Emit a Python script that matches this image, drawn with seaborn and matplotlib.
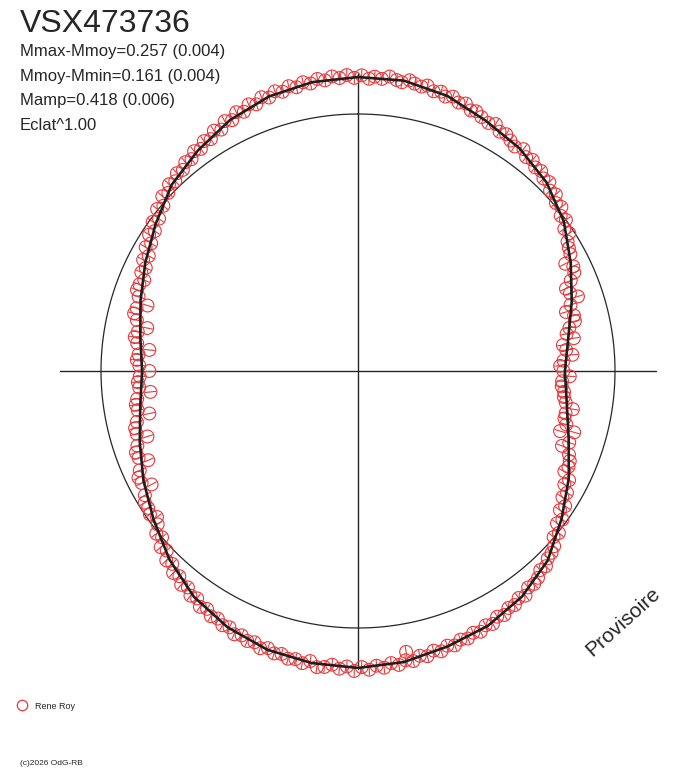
import numpy as np
import pandas as pd
import seaborn as sns
import matplotlib.pyplot as plt
from matplotlib.lines import Line2D

# star and statistics shown in the header
star = "VSX473736"
stats_lines = ["Mmax-Mmoy=0.257 (0.004)", "Mmoy-Mmin=0.161 (0.004)",
               "Mamp=0.418 (0.006)", "Eclat^1.00"]
observer = "Rene Roy"

# fitted light curve: phase vs magnitude relative to Mmoy (positive = fainter)
fit_phase = [0.000, 0.025, 0.050, 0.075, 0.100, 0.125, 0.150, 0.175, 0.200, 0.225,
             0.250, 0.275, 0.300, 0.325, 0.350, 0.375, 0.400, 0.425, 0.450, 0.475,
             0.500, 0.525, 0.550, 0.575, 0.600, 0.625, 0.650, 0.675, 0.700, 0.725,
             0.750, 0.775, 0.800, 0.825, 0.850, 0.875, 0.900, 0.925, 0.950, 0.975, 1.000]
fit_dmag = [-0.172, -0.172, -0.150, -0.112, -0.084, -0.045, 0.012, 0.085, 0.150, 0.205,
            0.233, 0.212, 0.165, 0.095, 0.025, -0.052, -0.102, -0.135, -0.152, -0.175,
            -0.186, -0.180, -0.168, -0.142, -0.103, -0.045, 0.020, 0.075, 0.128, 0.170,
            0.191, 0.170, 0.132, 0.085, 0.032, -0.030, -0.072, -0.115, -0.147, -0.165, -0.172]

# observations (phase, relative magnitude)
obs_phase = [
    0.002, 0.006, 0.009, 0.013, 0.017, 0.021, 0.024, 0.028, 0.031, 0.035,
    0.038, 0.042, 0.046, 0.049, 0.053, 0.057, 0.061, 0.065, 0.068, 0.072,
    0.077, 0.081, 0.085, 0.089, 0.093, 0.097, 0.102, 0.106, 0.110, 0.114,
    0.118, 0.122, 0.126, 0.130, 0.134, 0.138, 0.142, 0.146, 0.150, 0.154,
    0.158, 0.162, 0.166, 0.170, 0.174, 0.178, 0.182, 0.186, 0.190, 0.194,
    0.198, 0.202, 0.206, 0.210, 0.214, 0.218, 0.222, 0.226, 0.230, 0.234,
    0.238, 0.242, 0.246, 0.250, 0.254, 0.258, 0.262, 0.266, 0.270, 0.274,
    0.278, 0.282, 0.286, 0.290, 0.294, 0.296, 0.302, 0.306, 0.310, 0.314,
    0.318, 0.322, 0.326, 0.330, 0.334, 0.338, 0.342, 0.346, 0.350, 0.354,
    0.358, 0.362, 0.366, 0.370, 0.374, 0.378, 0.382, 0.386, 0.390, 0.394,
    0.398, 0.402, 0.406, 0.410, 0.414, 0.418, 0.422, 0.426, 0.430, 0.434,
    0.438, 0.442, 0.446, 0.450, 0.454, 0.458, 0.462, 0.466, 0.470, 0.473,
    0.474, 0.478, 0.482, 0.486, 0.490, 0.494, 0.498, 0.502, 0.506, 0.510,
    0.514, 0.518, 0.522, 0.526, 0.530, 0.534, 0.538, 0.542, 0.546, 0.550,
    0.554, 0.558, 0.562, 0.566, 0.570, 0.574, 0.578, 0.582, 0.586, 0.590,
    0.594, 0.598, 0.602, 0.606, 0.610, 0.614, 0.618, 0.622, 0.626, 0.630,
    0.634, 0.638, 0.642, 0.646, 0.650, 0.654, 0.658, 0.662, 0.666, 0.670,
    0.674, 0.678, 0.682, 0.686, 0.690, 0.694, 0.698, 0.702, 0.706, 0.710,
    0.714, 0.718, 0.722, 0.726, 0.730, 0.734, 0.738, 0.742, 0.746, 0.750,
    0.754, 0.758, 0.762, 0.766, 0.770, 0.774, 0.778, 0.782, 0.786, 0.790,
    0.794, 0.798, 0.802, 0.806, 0.810, 0.814, 0.818, 0.822, 0.826, 0.830,
    0.834, 0.838, 0.842, 0.846, 0.850, 0.854, 0.858, 0.862, 0.866, 0.870,
    0.874, 0.878, 0.882, 0.886, 0.890, 0.894, 0.898, 0.902, 0.906, 0.910,
    0.914, 0.918, 0.922, 0.926, 0.930, 0.934, 0.938, 0.942, 0.946, 0.950,
    0.954, 0.958, 0.962, 0.966, 0.970, 0.974, 0.978, 0.982, 0.986, 0.990,
    0.994, 0.998]
obs_dmag = [
    -0.180, -0.165, -0.176, -0.168, -0.182, -0.170, -0.163, -0.178, -0.167, -0.160,
    -0.171, -0.152, -0.160, -0.144, -0.155, -0.138, -0.146, -0.125, -0.132, -0.118,
    -0.108, -0.120, -0.098, -0.104, -0.090, -0.078, -0.092, -0.070, -0.079, -0.060,
    -0.066, -0.048, -0.055, -0.030, -0.038, -0.012, -0.020, 0.008, 0.000, 0.030,
    0.022, 0.050, 0.060, 0.068, 0.110, 0.082, 0.090, 0.120, 0.155, 0.145,
    0.115, 0.160, 0.190, 0.158, 0.160, 0.192, 0.210, 0.180, 0.235, 0.222,
    0.195, 0.238, 0.255, 0.240, 0.210, 0.245, 0.245, 0.232, 0.230, 0.218,
    0.180, 0.210, 0.210, 0.195, 0.150, 0.215, 0.158, 0.185, 0.140, 0.125,
    0.120, 0.128, 0.090, 0.100, 0.070, 0.078, 0.045, 0.055, 0.020, 0.030,
    -0.005, 0.002, -0.028, -0.040, -0.045, -0.065, -0.060, -0.080, -0.090, -0.085,
    -0.108, -0.098, -0.115, -0.110, -0.128, -0.118, -0.138, -0.128, -0.145, -0.135,
    -0.150, -0.142, -0.158, -0.148, -0.165, -0.152, -0.170, -0.160, -0.178, -0.130,
    -0.168, -0.185, -0.172, -0.190, -0.178, -0.195, -0.182, -0.200, -0.180, -0.192,
    -0.176, -0.190, -0.195, -0.172, -0.188, -0.176, -0.182, -0.168, -0.175, -0.160,
    -0.172, -0.155, -0.162, -0.148, -0.158, -0.138, -0.145, -0.128, -0.135, -0.115,
    -0.125, -0.100, -0.108, -0.085, -0.095, -0.070, -0.078, -0.050, -0.058, -0.025,
    -0.035, 0.000, -0.010, 0.022, 0.040, 0.020, 0.030, 0.030, 0.048, 0.100,
    0.062, 0.060, 0.080, 0.135, 0.098, 0.095, 0.112, 0.170, 0.125, 0.125,
    0.140, 0.205, 0.155, 0.150, 0.160, 0.225, 0.175, 0.170, 0.180, 0.225,
    0.178, 0.165, 0.172, 0.220, 0.160, 0.145, 0.155, 0.195, 0.140, 0.120,
    0.125, 0.170, 0.118, 0.100, 0.102, 0.115, 0.088, 0.098, 0.070, 0.085,
    0.052, 0.065, 0.035, 0.048, 0.015, 0.030, -0.005, 0.008, -0.025, -0.015,
    -0.040, -0.030, -0.052, -0.045, -0.065, -0.058, -0.080, -0.070, -0.092, -0.082,
    -0.108, -0.095, -0.122, -0.110, -0.135, -0.122, -0.145, -0.132, -0.155, -0.142,
    -0.162, -0.150, -0.168, -0.155, -0.172, -0.160, -0.176, -0.165, -0.180, -0.170,
    -0.182, -0.168]
obs_err = 0.027

# radial scale: Mmoy circle at 257 px, 215 px per magnitude, frame radius 298 px
r_mean, px_per_mag, r_edge = 257, 215, 298
mag_center = r_mean / px_per_mag
mag_edge = -(r_edge - r_mean) / px_per_mag

red = "#e8383c"
ink = "#262626"

sns.set_theme(style="white")
plt.rcParams["font.family"] = ["Liberation Sans", "DejaVu Sans"]

W, H = 688, 768
fig = plt.figure(figsize=(W / 100, H / 100), dpi=100)
cx, cy = 358, 371
ax = fig.add_axes([(cx - r_edge) / W, (H - cy - r_edge) / H, 2 * r_edge / W, 2 * r_edge / H],
                  projection="polar")
ax.set_theta_zero_location("N")
ax.set_theta_direction(-1)
ax.set_rlim(mag_center, mag_edge)
ax.grid(False)
ax.set_xticks([])
ax.set_yticks([])
ax.spines["polar"].set_visible(False)
ax.patch.set_alpha(0)

# mean magnitude circle and the cross
t = np.linspace(0, 2 * np.pi, 721)
ax.plot(t, np.zeros_like(t), color=ink, lw=0.9)
for a in [0, np.pi / 2, np.pi, 3 * np.pi / 2]:
    ax.plot([a, a], [mag_center, mag_edge], color=ink, lw=1.0, clip_on=False)

df = pd.DataFrame({"theta": np.array(obs_phase) * 2 * np.pi, "dmag": obs_dmag})
ax.errorbar(df["theta"], df["dmag"], yerr=obs_err, fmt="none", ecolor=red,
            elinewidth=0.8, clip_on=False)
sns.scatterplot(data=df, x="theta", y="dmag", ax=ax, s=85, marker="o",
                facecolor="none", edgecolor=red, linewidth=0.8, clip_on=False, zorder=3)

fit = pd.DataFrame({"theta": np.array(fit_phase) * 2 * np.pi, "dmag": fit_dmag})
sns.lineplot(data=fit, x="theta", y="dmag", ax=ax, sort=False, estimator=None,
             color="#1e1e1e", lw=1.9, zorder=4)
ax.set_xlabel("")
ax.set_ylabel("")

# header texts
fig.text(20 / W, 1 - 32 / H, star, fontsize=23, color=ink, va="baseline")
for i, s in enumerate(stats_lines):
    fig.text(20 / W, 1 - (56 + 24.5 * i) / H, s, fontsize=12, color=ink, va="baseline")

# observer legend and footer
fig.add_artist(Line2D([22 / W], [1 - 705 / H], transform=fig.transFigure, marker="o",
                      markersize=7.5, markerfacecolor="none", markeredgecolor=red,
                      markeredgewidth=0.9, linestyle="none"))
fig.text(35 / W, 1 - 709 / H, observer, fontsize=6.5, color=ink, va="baseline")
fig.text(20 / W, 1 - 765 / H, "(c)2026 OdG-RB", fontsize=6, color=ink, va="baseline")
fig.text(623 / W, 1 - 622 / H, "Provisoire", fontsize=15, color=ink, rotation=42,
         ha="center", va="center")

fig.savefig("out.png", dpi=100)
